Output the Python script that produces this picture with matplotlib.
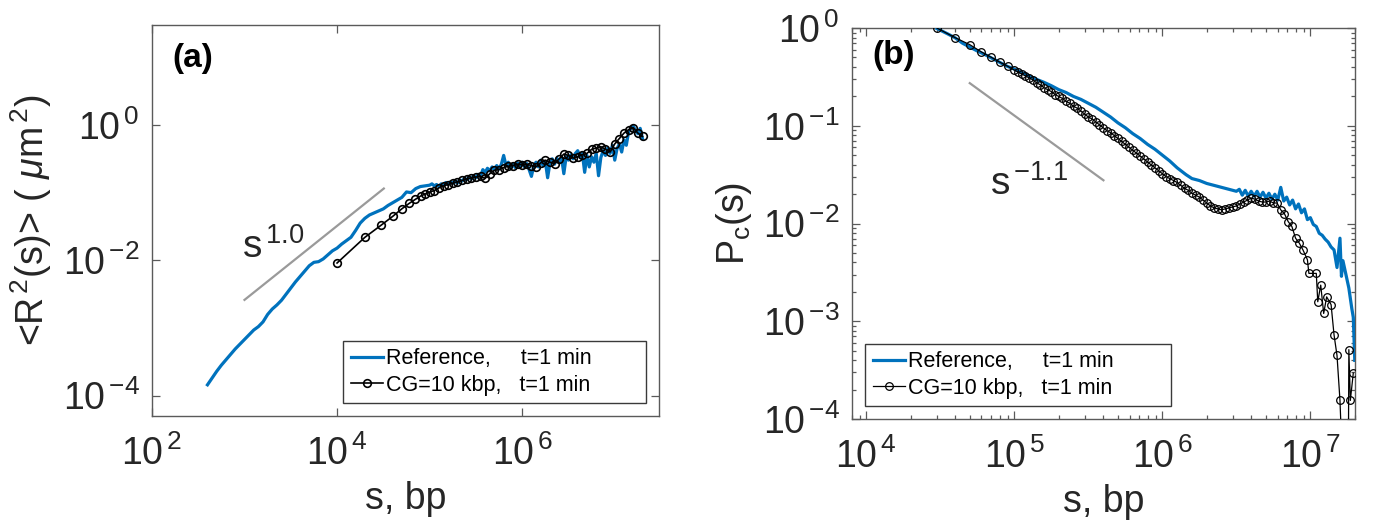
import numpy as np
import matplotlib
matplotlib.use('Agg')
import matplotlib.pyplot as plt
from matplotlib.ticker import FixedLocator, FuncFormatter, NullLocator, LogLocator

plt.rcParams['font.family'] = ['Liberation Sans', 'DejaVu Sans']
plt.rcParams['mathtext.fontset'] = 'custom'
plt.rcParams['mathtext.rm'] = 'Liberation Sans'
plt.rcParams['mathtext.it'] = 'Liberation Sans:italic'
plt.rcParams['mathtext.bf'] = 'Liberation Sans:bold'

TXT = '#262626'
BLUE = '#0072BD'
GRAY = '#9a9a9a'

# ---------------- Panel (a) data (log10 values) ----------------
a_ref_logs = [2.60, 2.65, 2.70, 2.75, 2.80, 2.85, 2.90, 2.95, 3.00, 3.05, 3.10, 3.15, 3.20, 3.25,
              3.30, 3.35, 3.40, 3.45, 3.50, 3.55, 3.60, 3.65, 3.70, 3.75, 3.80, 3.85, 3.90, 3.95,
              4.00, 4.05, 4.10, 4.15, 4.20, 4.25, 4.30, 4.35, 4.40, 4.45, 4.50, 4.55, 4.60, 4.65,
              4.70, 4.75, 4.80, 4.85, 4.90, 4.95,
              5.000, 5.025, 5.050, 5.075, 5.100, 5.125, 5.150, 5.175, 5.200, 5.225, 5.250, 5.275,
              5.300, 5.325, 5.350, 5.375, 5.400, 5.425, 5.450, 5.475, 5.500, 5.525, 5.550, 5.575,
              5.600, 5.625, 5.650, 5.675, 5.700, 5.725, 5.750, 5.775, 5.800, 5.825, 5.850, 5.875,
              5.900, 5.925, 5.950, 5.975, 6.000, 6.025, 6.050, 6.075, 6.100, 6.125, 6.150, 6.175,
              6.200, 6.225, 6.250, 6.275, 6.300, 6.325, 6.350, 6.375, 6.400, 6.425, 6.450, 6.475,
              6.500, 6.525, 6.550, 6.575, 6.600, 6.625, 6.650, 6.675, 6.700, 6.725, 6.750, 6.775,
              6.800, 6.825, 6.850, 6.875, 6.900, 6.925, 6.950, 6.975, 7.000, 7.025, 7.050, 7.075,
              7.100, 7.125, 7.150, 7.175, 7.200, 7.225, 7.250, 7.275, 7.300]
a_ref_logr2 = [-3.84, -3.74, -3.64, -3.55, -3.47, -3.39, -3.31, -3.24, -3.17, -3.10, -3.03, -2.98, -2.91, -2.80,
               -2.72, -2.66, -2.59, -2.50, -2.41, -2.32, -2.24, -2.16, -2.08, -2.03, -2.02, -1.98, -1.92, -1.86,
               -1.82, -1.76, -1.71, -1.66, -1.56, -1.45, -1.38, -1.33, -1.30, -1.27, -1.24, -1.19, -1.15, -1.11,
               -1.07, -0.99, -1.00, -0.94, -0.91, -0.90,
               -0.89, -0.87, -0.90, -0.88, -0.91, -0.87, -0.89, -0.85, -0.88, -0.84, -0.86, -0.83,
               -0.86, -0.81, -0.83, -0.79, -0.81, -0.77, -0.80, -0.75, -0.78, -0.73, -0.76, -0.66,
               -0.70, -0.64, -0.68, -0.62, -0.66, -0.60, -0.65, -0.58, -0.45, -0.60, -0.55, -0.64,
               -0.58, -0.63, -0.56, -0.61, -0.55, -0.62, -0.57, -0.66, -0.76, -0.60, -0.55, -0.62,
               -0.52, -0.60, -0.54, -0.78, -0.56, -0.50, -0.58, -0.49, -0.56, -0.48, -0.72, -0.47,
               -0.52, -0.44, -0.50, -0.42, -0.38, -0.48, -0.42, -0.70, -0.45, -0.62, -0.47, -0.55,
               -0.42, -0.75, -0.48, -0.38, -0.45, -0.34, -0.42, -0.30, -0.52, -0.35, -0.28, -0.40,
               -0.22, -0.30, -0.10, -0.05, -0.02, -0.08, -0.13, -0.05, -0.20]

a_cg_logs = [4.000, 4.301, 4.477, 4.602, 4.699, 4.778, 4.845, 4.903, 4.954, 5.000,
             5.05, 5.10, 5.15, 5.20, 5.25, 5.30, 5.35, 5.40, 5.45, 5.50, 5.55, 5.60, 5.65, 5.70,
             5.75, 5.80, 5.85, 5.90, 5.95, 6.00, 6.05, 6.10, 6.15, 6.20, 6.25, 6.30, 6.35, 6.40,
             6.45, 6.50, 6.55, 6.60, 6.65, 6.70, 6.75, 6.80, 6.85, 6.90, 6.95, 7.00, 7.05, 7.10,
             7.15, 7.20, 7.25, 7.30]
a_cg_logr2 = [-2.04, -1.66, -1.48, -1.35, -1.24, -1.16, -1.10, -1.05, -1.02, -0.99,
              -0.97, -0.93, -0.90, -0.88, -0.86, -0.84, -0.82, -0.80, -0.78, -0.77, -0.76, -0.79, -0.72, -0.67,
              -0.66, -0.63, -0.61, -0.60, -0.58, -0.59, -0.58, -0.60, -0.62, -0.56, -0.52, -0.55, -0.57, -0.50,
              -0.43, -0.45, -0.49, -0.47, -0.44, -0.42, -0.36, -0.34, -0.32, -0.36, -0.40, -0.28, -0.20, -0.12,
              -0.07, -0.04, -0.12, -0.17]

a_guide_s = [1.0e3, 3.2e4]
a_guide_r2 = [2.6e-3, 1.15e-1]

# ---------------- Panel (b) data (log10 values) ----------------
b_ref_logs = [4.477, 4.55, 4.60, 4.65, 4.70, 4.75, 4.80, 4.85, 4.90, 4.95, 5.00, 5.05, 5.10, 5.15,
              5.20, 5.25, 5.30, 5.35, 5.40, 5.45, 5.50, 5.55, 5.60, 5.65, 5.70, 5.75, 5.80, 5.85,
              5.90, 5.95, 6.00, 6.05, 6.10, 6.16, 6.20, 6.25, 6.30, 6.35, 6.40, 6.45, 6.50,
              6.52, 6.54, 6.56, 6.58, 6.60, 6.62, 6.64, 6.66, 6.68, 6.70, 6.72, 6.74, 6.76, 6.78,
              6.80, 6.82, 6.84, 6.86, 6.88, 6.90, 6.92, 6.94, 6.96, 6.98, 7.00, 7.02, 7.04, 7.06,
              7.08, 7.10, 7.12, 7.14, 7.16, 7.18, 7.20, 7.21, 7.22, 7.24, 7.26, 7.28, 7.29, 7.30]
b_ref_logp = [-0.005, -0.06, -0.10, -0.155, -0.195, -0.235, -0.27, -0.31, -0.35, -0.39, -0.42, -0.455, -0.49, -0.525,
              -0.555, -0.59, -0.63, -0.66, -0.70, -0.73, -0.77, -0.81, -0.86, -0.91, -0.97, -1.02, -1.08, -1.13,
              -1.19, -1.24, -1.30, -1.36, -1.43, -1.50, -1.54, -1.56, -1.59, -1.61, -1.63, -1.65, -1.67,
              -1.65, -1.71, -1.66, -1.72, -1.67, -1.72, -1.67, -1.73, -1.68, -1.74, -1.69, -1.75, -1.70, -1.76,
              -1.63, -1.77, -1.73, -1.81, -1.76, -1.85, -1.80, -1.89, -1.85, -1.96, -1.94, -2.01, -2.03, -2.10,
              -2.12, -2.16, -2.19, -2.24, -2.27, -2.45, -2.15, -2.54, -2.38, -2.52, -2.66, -2.87, -2.96, -3.40]

b_cg_logs = [4.477, 4.602, 4.699, 4.778, 4.845, 4.903, 4.954, 5.000,
             5.025, 5.050, 5.075, 5.100, 5.125, 5.150, 5.175, 5.200, 5.225, 5.250, 5.275, 5.300,
             5.325, 5.350, 5.375, 5.400, 5.425, 5.450, 5.475, 5.500, 5.525, 5.550, 5.575, 5.600,
             5.625, 5.650, 5.675, 5.700, 5.725, 5.750, 5.775, 5.800, 5.825, 5.850, 5.875, 5.900,
             5.925, 5.950, 5.975, 6.000, 6.025, 6.050, 6.075, 6.100, 6.125, 6.150, 6.175, 6.200,
             6.225, 6.250, 6.275, 6.300, 6.325, 6.350, 6.375, 6.400, 6.425, 6.450, 6.475, 6.500,
             6.525, 6.550, 6.575, 6.600, 6.625, 6.650, 6.675, 6.700, 6.725, 6.750, 6.775, 6.800,
             6.825, 6.850, 6.875, 6.900, 6.925, 6.950, 6.980,
             6.99, 7.04, 7.05, 7.07, 7.09, 7.11, 7.14, 7.16, 7.18, 7.20, 7.23, 7.255, 7.26, 7.27, 7.29]
b_cg_logp = [0.00, -0.10, -0.17, -0.245, -0.30, -0.35, -0.39, -0.43,
             -0.45, -0.47, -0.49, -0.51, -0.53, -0.56, -0.58, -0.61, -0.63, -0.65, -0.68, -0.70,
             -0.72, -0.75, -0.77, -0.80, -0.82, -0.85, -0.88, -0.91, -0.93, -0.96, -0.99, -1.02,
             -1.05, -1.07, -1.10, -1.13, -1.16, -1.19, -1.22, -1.25, -1.28, -1.31, -1.34, -1.37,
             -1.40, -1.43, -1.46, -1.49, -1.52, -1.54, -1.56, -1.58, -1.61, -1.64, -1.66, -1.69,
             -1.71, -1.73, -1.76, -1.79, -1.82, -1.84, -1.85, -1.86, -1.85, -1.84, -1.83, -1.82,
             -1.80, -1.78, -1.76, -1.74, -1.75, -1.77, -1.78, -1.78, -1.77, -1.79, -1.79, -1.86,
             -1.90, -1.98, -2.03, -2.15, -2.20, -2.27, -2.37,
             -2.51, -2.51, -2.80, -2.63, -2.92, -2.75, -2.83, -3.14, -3.35, -3.81, -5.0, -5.0, -3.29, -3.81, -3.53]

b_guide_s = [5.0e4, 4.0e5]
b_guide_p = [2.73e-1, 2.77e-2]

# ---------------- Figure ----------------
fig = plt.figure(figsize=(13.75, 5.29), dpi=100)
axa = fig.add_axes([0.1105, 0.2136, 0.3687, 0.7391])
axb = fig.add_axes([0.6196, 0.2079, 0.3658, 0.7391])

def pow_fmt(v, pos):
    if v <= 0:
        return ''
    e = int(round(np.log10(v)))
    if e < 0:
        return r'$\mathregular{10^{\,{-}%d}}$' % (-e)
    return r'$\mathregular{10^{\,%d}}$' % e

for ax in (axa, axb):
    ax.set_xscale('log')
    ax.set_yscale('log')
    for sp in ax.spines.values():
        sp.set_color('#5a5a5a')
        sp.set_linewidth(1.0)

# Panel (a)
axa.plot(10 ** np.array(a_ref_logs), 10 ** np.array(a_ref_logr2), color=BLUE, lw=2.3,
         label='Reference,     t=1 min', zorder=3)
axa.plot(10 ** np.array(a_cg_logs), 10 ** np.array(a_cg_logr2), color='black', lw=1.2,
         marker='o', ms=5.5, mfc='none', mec='black', mew=1.2,
         label='CG=10 kbp,   t=1 min', zorder=4)
axa.plot(a_guide_s, a_guide_r2, color=GRAY, lw=1.6, zorder=2)
axa.text(9.4e2, 1.07e-2, r'$\mathregular{s^{\,1.0}}$', fontsize=28, color=TXT)
axa.text(0.04, 0.955, '(a)', transform=axa.transAxes, fontsize=24, fontweight='bold',
         va='top', ha='left', color='black')
axa.set_xlim(1e2, 3e7)
axa.set_ylim(5e-5, 30)
axa.xaxis.set_major_locator(FixedLocator([1e2, 1e4, 1e6]))
axa.yaxis.set_major_locator(FixedLocator([1e-4, 1e-2, 1e0]))
axa.xaxis.set_minor_locator(NullLocator())
axa.yaxis.set_minor_locator(NullLocator())
axa.set_xlabel('s, bp', fontsize=27, color=TXT, labelpad=6)
axa.set_ylabel('<' + r'$\mathregular{R^{\,2}}$' + '(s)> ( ' + r'$\mathit{\mu}\mathregular{m^{\,2}}$' + ')',
               fontsize=27, color=TXT, labelpad=6)

# Panel (b)
axb.plot(10 ** np.array(b_ref_logs), 10 ** np.array(b_ref_logp), color=BLUE, lw=2.3,
         label='Reference,     t=1 min', zorder=3)
axb.plot(10 ** np.array(b_cg_logs), 10 ** np.array(b_cg_logp), color='black', lw=0.9,
         marker='o', ms=5.5, mfc='none', mec='black', mew=0.9,
         label='CG=10 kbp,   t=1 min', zorder=4)
axb.plot(b_guide_s, b_guide_p, color=GRAY, lw=1.6, zorder=2)
axb.text(6.9e4, 1.95e-2, r'$\mathregular{s^{\,{-}1.1}}$', fontsize=28, color=TXT)
axb.text(0.04, 0.969, '(b)', transform=axb.transAxes, fontsize=24, fontweight='bold',
         va='top', ha='left', color='black')
axb.set_xlim(8e3, 2e7)
axb.set_ylim(1e-4, 1)
axb.xaxis.set_major_locator(FixedLocator([1e4, 1e5, 1e6, 1e7]))
axb.yaxis.set_major_locator(FixedLocator([1e-4, 1e-3, 1e-2, 1e-1, 1e0]))
axb.xaxis.set_minor_locator(LogLocator(base=10, subs=np.arange(2, 10), numticks=20))
axb.yaxis.set_minor_locator(LogLocator(base=10, subs=np.arange(2, 10), numticks=20))
axb.set_xlabel('s, bp', fontsize=27, color=TXT, labelpad=6)
axb.set_ylabel(r'$\mathregular{P_c(s)}$', fontsize=27, color=TXT, labelpad=6)

leg_boxes = {axa: (0.377, 0.033, 0.598, 0.153), axb: (0.026, 0.033, 0.608, 0.153)}
for ax in (axa, axb):
    ax.xaxis.set_major_formatter(FuncFormatter(pow_fmt))
    ax.yaxis.set_major_formatter(FuncFormatter(pow_fmt))
    ax.xaxis.set_minor_formatter(FuncFormatter(lambda v, p: ''))
    ax.yaxis.set_minor_formatter(FuncFormatter(lambda v, p: ''))
    ax.tick_params(which='both', direction='in', top=True, right=True, colors='#5a5a5a',
                   labelcolor=TXT, labelsize=27, width=0.9)
    ax.tick_params(which='major', length=5.5)
    ax.tick_params(axis='x', which='major', pad=14)
    ax.tick_params(axis='y', which='major', pad=9)
    ax.tick_params(which='minor', length=3)
    leg = ax.legend(loc='lower left', bbox_to_anchor=leg_boxes[ax], mode='expand',
                    borderaxespad=0, fontsize=15.5, frameon=True, fancybox=False,
                    edgecolor='#3a3a3a', framealpha=1, handlelength=1.5, handletextpad=0.15,
                    borderpad=0.35, labelspacing=0.25, numpoints=1)
    leg.get_frame().set_linewidth(1.0)
    for t in leg.get_texts():
        t.set_color('black')

fig.savefig('out.png', dpi=100)
